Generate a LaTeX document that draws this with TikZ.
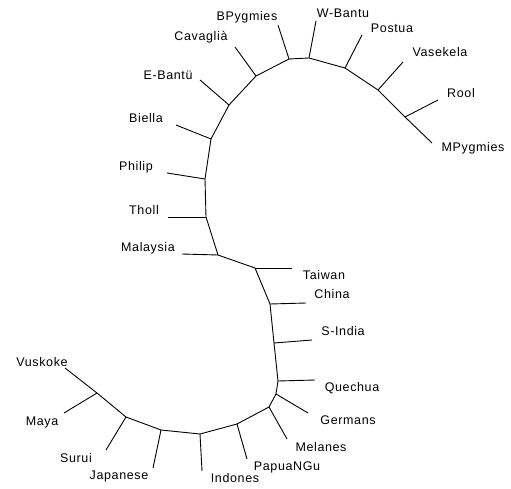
\documentclass[tikz,border=0pt]{standalone}
\usepackage{fontspec}
\setmainfont[LetterSpace=5]{Liberation Sans}
\begin{document}
\begin{tikzpicture}[x=1pt,y=-1pt,
  branch/.style={draw=black,line width=0.9pt,line join=round},
  lab/.style={font=\fontsize{12.5}{14}\selectfont,inner sep=0pt,anchor=center}]
\useasboundingbox (0,0) rectangle (511,489);
% backbone junctions
\coordinate (eM) at (432,143);
\coordinate (jRo) at (405,117);
\coordinate (jVa) at (378,90);
\coordinate (jPo) at (345,68);
\coordinate (jWB) at (309,58);
\coordinate (jBP) at (289,59);
\coordinate (jCa) at (256,76);
\coordinate (jEB) at (229,105);
\coordinate (jBi) at (211,139);
\coordinate (jPh) at (205,179);
\coordinate (jTh) at (206,217);
\coordinate (jMa) at (218,255);
\coordinate (jTa) at (255,268);
\coordinate (jCh) at (270,304);
\coordinate (jSI) at (274,343);
\coordinate (jQu) at (278,381);
\coordinate (jGe) at (276,394);
\coordinate (jMe) at (269,407);
\coordinate (jPN) at (237,424);
\coordinate (jIn) at (200,434);
\coordinate (jJa) at (161,430);
\coordinate (jSu) at (126,417);
\coordinate (jMy) at (97,393);
\coordinate (eV) at (65,368);
% leaf tips
\coordinate (tRo) at (438,100);
\coordinate (tVa) at (403,62);
\coordinate (tPo) at (362,35);
\coordinate (tWB) at (316,21);
\coordinate (tBP) at (278,25);
\coordinate (tCa) at (235,47);
\coordinate (tEB) at (200,80);
\coordinate (tBi) at (176,125);
\coordinate (tPh) at (167,173);
\coordinate (tTh) at (168,217);
\coordinate (tMa) at (182,254);
\coordinate (tTa) at (292,268);
\coordinate (tCh) at (306,303);
\coordinate (tSI) at (312,340);
\coordinate (tQu) at (315,380);
\coordinate (tGe) at (308,413);
\coordinate (tMe) at (287,439);
\coordinate (tPN) at (247,459);
\coordinate (tIn) at (202,471);
\coordinate (tJa) at (153,468);
\coordinate (tSu) at (106,450);
\coordinate (tMy) at (64,413);
% backbone
\draw[branch] (eM) -- (jRo) -- (jVa) -- (jPo) -- (jWB) -- (jBP) -- (jCa) -- (jEB)
  -- (jBi) -- (jPh) -- (jTh) -- (jMa) -- (jTa) -- (jCh) -- (jSI) -- (jQu) -- (jGe)
  -- (jMe) -- (jPN) -- (jIn) -- (jJa) -- (jSu) -- (jMy) -- (eV);
% leaves
\foreach \a in {Ro,Va,Po,WB,BP,Ca,EB,Bi,Ph,Th,Ma,Ta,Ch,SI,Qu,Ge,Me,PN,In,Ja,Su,My}
  \draw[branch] (j\a) -- (t\a);
% labels
\node[lab] (lBP) at (247,17) {BPygmies};
\node[lab] (lWB) at (343,13) {W-Bantu};
\node[lab] (lPo) at (392,28) {Postua};
\node[lab] (lVa) at (440,52) {Vasekela};
\node[lab] (lRo) at (461,93) {Rool};
\node[lab] (lMP) at (473,148) {MPygmies};
\node[lab] (lCa) at (201,37) {Cavaglià};
\node[lab] (lEB) at (168,75) {E-Bantü};
\node[lab] (lBi) at (146,118) {Biella};
\node[lab] (lPh) at (136,167) {Philip};
\node[lab] (lTh) at (144,210) {Tholl};
\node[lab] (lMa) at (148,248) {Malaysia};
\node[lab] (lTa) at (324,275) {Taiwan};
\node[lab] (lCh) at (332,294) {China};
\node[lab] (lSI) at (343,331) {S-India};
\node[lab] (lQu) at (352,388) {Quechua};
\node[lab] (lGe) at (348,420) {Germans};
\node[lab] (lMe) at (321,447) {Melanes};
\node[lab] (lPN) at (287,467) {PapuaNGu};
\node[lab] (lIn) at (235,478) {Indones};
\node[lab] (lJa) at (119,476) {Japanese};
\node[lab] (lSu) at (76,458) {Surui};
\node[lab] (lMy) at (42,422) {Maya};
\node[lab] (lVu) at (42,362) {Vuskoke};
\end{tikzpicture}
\end{document}
